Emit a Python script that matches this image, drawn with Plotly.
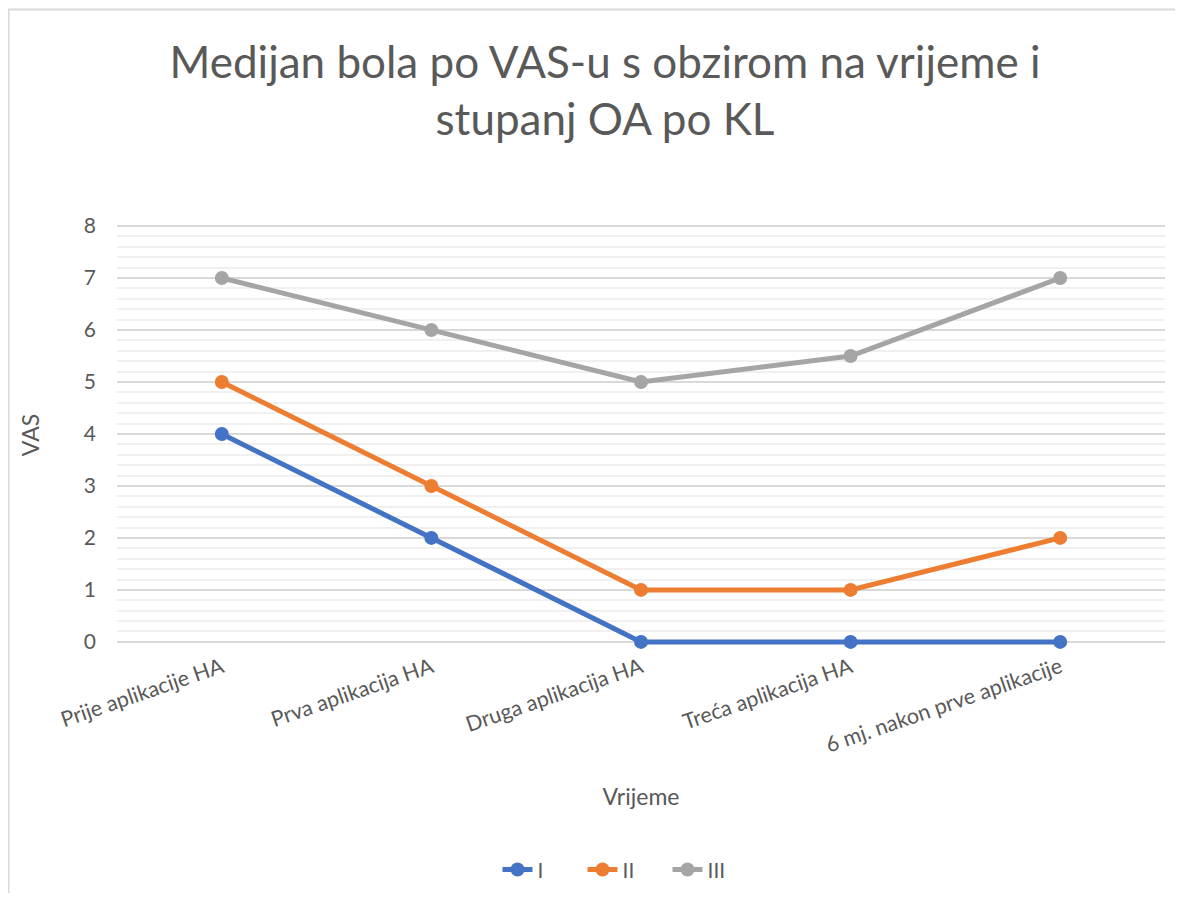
import plotly.graph_objects as go

categories = ["Prije aplikacije HA", "Prva aplikacija HA", "Druga aplikacija HA",
              "Treća aplikacija HA", "6 mj. nakon prve aplikacije"]
series_I = [4, 2, 0, 0, 0]
series_II = [5, 3, 1, 1, 2]
series_III = [7, 6, 5, 5.5, 7]
series_names = ["I", "II", "III"]
colors = ["#4472C4", "#ED7D31", "#A5A5A5"]

# page has an 8px body margin; coordinates below are figure coordinates
W, H = 1167, 885
L, R = 109, 1157
Y_TOP, Y_BOT = 218, 634          # pixel rows of value 8 and value 0
YMIN, YMAX = -0.06, 8.02         # small padding so the line at 0 is not clipped
ppu = (Y_BOT - Y_TOP) / 8
T = Y_TOP - (YMAX - 8) * ppu
B = Y_BOT + (0 - YMIN) * ppu
pw, ph = R - L, B - T

fig = go.Figure()
for name, vals, c in zip(series_names, [series_I, series_II, series_III], colors):
    fig.add_trace(go.Scatter(
        x=categories, y=vals, name=name, mode="lines+markers",
        line=dict(color=c, width=5), marker=dict(color=c, size=14),
        cliponaxis=False,
    ))

font_color = "#595959"
fig.update_layout(
    width=W, height=H,
    margin=dict(l=L, r=W - R, t=T, b=H - B, autoexpand=False),
    paper_bgcolor="white", plot_bgcolor="white",
    font=dict(family="Lato, 'Open Sans', sans-serif", color=font_color, size=21),
    title=dict(text="Medijan bola po VAS-u s obzirom na vrijeme i<br>stupanj OA po KL",
               x=597 / W, xanchor="center", xref="container",
               y=1 - 70 / H, yanchor="middle", yref="container",
               font=dict(size=44, color=font_color)),
    xaxis=dict(
        title=dict(text="Vrijeme", font=dict(size=23), standoff=32),
        tickangle=-19, showgrid=False, zeroline=False, showline=False,
        ticklabelstandoff=5, tickfont=dict(size=21.5),
        range=[-0.5, 4.5], automargin=False,
    ),
    yaxis=dict(
        title=dict(text="VAS", font=dict(size=23), standoff=37),
        range=[YMIN, YMAX], tick0=0, dtick=1, showgrid=True, gridcolor="#d9d9d9", gridwidth=1.5,
        zeroline=False, showline=False, ticklabelstandoff=20,
        tickfont=dict(size=21), automargin=False,
        minor=dict(tick0=0, dtick=0.2, showgrid=True, gridcolor="#f0f0f0", gridwidth=1.5),
    ),
    legend=dict(orientation="h", x=(617 - L) / pw, xanchor="center",
                y=-(862 - B) / ph, yanchor="middle", font=dict(size=21),
                entrywidth=40, entrywidthmode="pixels"),
    showlegend=True,
)

fig.add_shape(type="rect", xref="paper", yref="paper",
              x0=(0.5 - L) / pw, x1=(W + 30 - L) / pw,
              y0=-(H + 30 - B) / ph, y1=1 + (T - 1.5) / ph,
              line=dict(color="#d9d9d9", width=2), layer="below")

fig.write_html("out.html")
